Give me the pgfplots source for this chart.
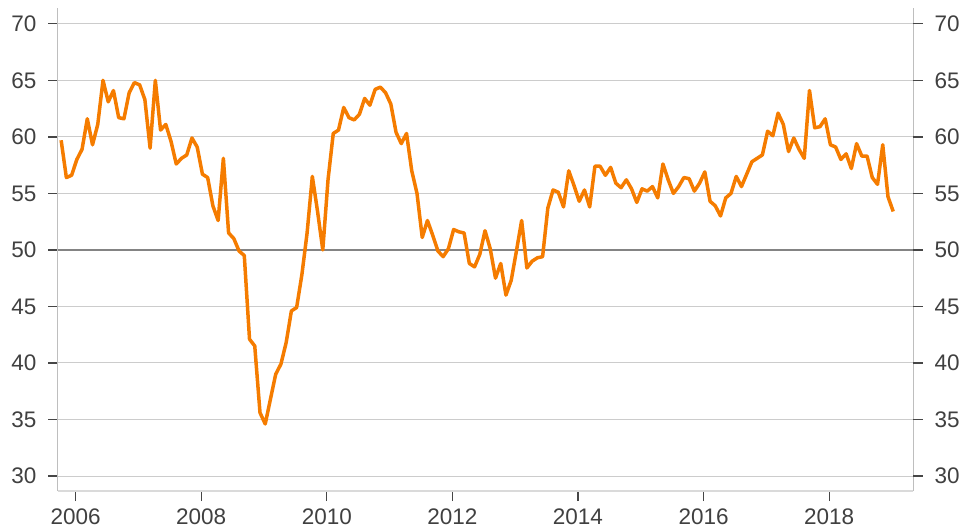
\documentclass[border=0pt]{standalone}
\usepackage{fontspec}
\setmainfont{Liberation Sans}
\usepackage{pgfplots}
\usepackage{pgfplotstable}
\pgfplotsset{compat=1.18}
\definecolor{lineorange}{RGB}{245,124,0}
\definecolor{gridgray}{RGB}{204,204,204}
\definecolor{spinegray}{RGB}{190,190,190}
\definecolor{bottomgray}{RGB}{218,218,218}
\definecolor{labelgray}{RGB}{64,64,64}
\definecolor{ticksgray}{RGB}{70,70,70}
\definecolor{refgray}{RGB}{132,132,132}

% monthly values, Oct 2005 -- Jan 2019
\pgfplotstableread{
v
59.7
56.4
56.6
58.0
58.9
61.6
59.3
61.1
65.0
63.1
64.1
61.7
61.6
63.9
64.8
64.6
63.3
59.0
65.0
60.6
61.1
59.6
57.6
58.1
58.4
59.9
59.1
56.7
56.4
53.9
52.6
58.1
51.5
51.0
49.9
49.5
42.1
41.5
35.6
34.6
36.8
39.0
39.9
41.8
44.6
44.9
47.8
51.5
56.5
53.4
50.0
56.2
60.3
60.6
62.6
61.7
61.5
62.0
63.4
62.8
64.2
64.4
63.9
62.9
60.4
59.4
60.3
57.0
55.0
51.1
52.6
51.3
49.9
49.4
50.1
51.8
51.6
51.5
48.8
48.5
49.6
51.7
50.1
47.5
48.8
46.0
47.3
49.9
52.6
48.4
49.0
49.3
49.4
53.7
55.3
55.1
53.8
57.0
55.7
54.3
55.3
53.8
57.4
57.4
56.6
57.3
55.9
55.5
56.2
55.4
54.2
55.4
55.2
55.6
54.6
57.6
56.2
55.0
55.6
56.4
56.3
55.2
55.9
56.9
54.3
53.9
53.0
54.6
55.0
56.5
55.6
56.7
57.8
58.1
58.4
60.5
60.1
62.1
61.1
58.7
59.9
58.9
58.1
64.1
60.8
60.9
61.6
59.3
59.1
58.0
58.5
57.2
59.4
58.3
58.3
56.4
55.8
59.3
54.7
53.4
}\pmidata

\pgfplotsset{common/.style={
  at={(0pt,0pt)}, anchor=south west,
  scale only axis, width=855pt, height=483pt,
  xmin=2005.72, xmax=2019.335, ymin=28.67, ymax=71.4,
  axis line style={draw=none},
  ytick={30,35,...,70},
  minor tick num=0,
  tick align=outside,
  major tick length=10pt,
  tick style={draw=ticksgray, line width=1.3pt},
  major tick style={draw=ticksgray, line width=1.3pt},
  tick label style={font=\fontsize{22.5}{26}\selectfont, text=labelgray},
  /pgf/number format/assume math mode=true,
  /pgf/number format/1000 sep={},
}}

\begin{document}
\begin{tikzpicture}
\useasboundingbox (-58pt,-40pt) rectangle (907pt,491pt);
\begin{axis}[common,
  xtick={2006,2008,...,2018},
  xtick pos=bottom, xticklabel pos=bottom,
  ytick pos=left, yticklabel pos=left,
  yticklabel style={xshift=-8pt},
  xticklabel style={yshift=-4pt},
  ymajorgrids,
  grid style={gridgray, line width=0.9pt},
  clip=false,
]
\draw[spinegray, line width=1pt] (rel axis cs:0,0) -- (rel axis cs:0,1);
\draw[spinegray, line width=1pt] (rel axis cs:1,0) -- (rel axis cs:1,1);
\draw[bottomgray, line width=2.5pt] (rel axis cs:0,0) -- (rel axis cs:1,0);
\draw[refgray, line width=2.4pt] (axis cs:2005.72,50) -- (axis cs:2019.335,50);
\addplot[lineorange, line width=3.5pt, line join=round, mark=none]
  table[x expr=2005.77+\coordindex/12, y=v] {\pmidata};
\end{axis}
\begin{axis}[common,
  xtick=\empty,
  ytick pos=right, yticklabel pos=right,
  yticklabel style={xshift=8pt},
]
\end{axis}
\end{tikzpicture}
\end{document}
